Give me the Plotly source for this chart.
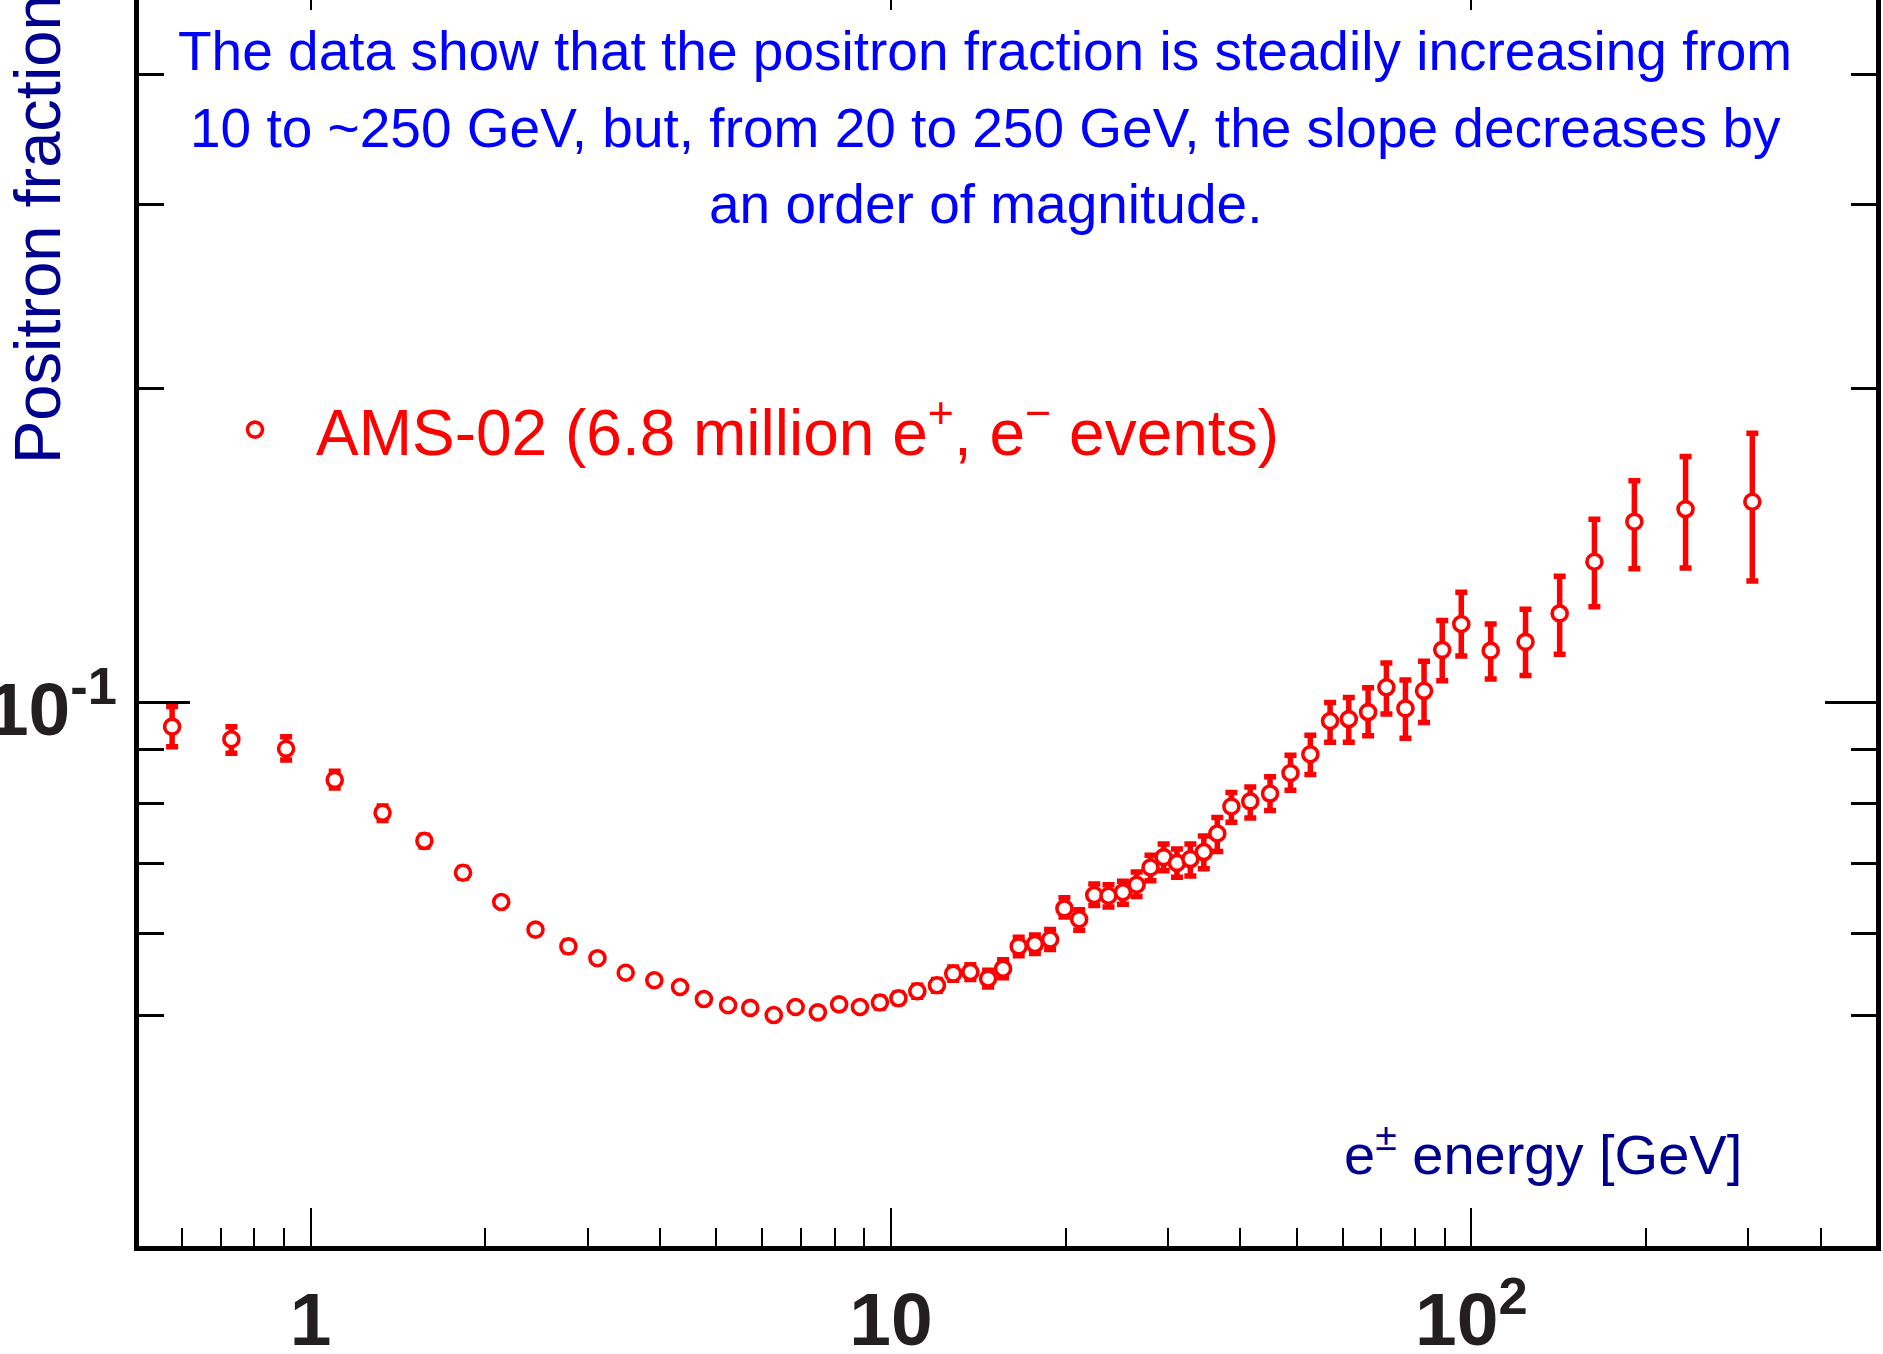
import plotly.graph_objects as go

# AMS-02 positron fraction versus e+/e- energy
energy = [0.577, 0.730, 0.907, 1.10, 1.33, 1.57, 1.83, 2.13, 2.44, 2.78,
          3.12, 3.49, 3.91, 4.33, 4.76, 5.24, 5.72, 6.28, 6.85, 7.48,
          8.14, 8.84, 9.57, 10.3, 11.1, 12.0, 12.8, 13.7, 14.7, 15.6,
          16.6, 17.7, 18.8, 19.9, 21.1, 22.4, 23.7, 25.1, 26.5, 28.0,
          29.5, 31.1, 32.8, 34.6, 36.5, 38.6, 41.6, 45.0, 48.8, 52.8,
          57.1, 61.5, 66.4, 71.4, 77.0, 82.9, 89.1, 96.1, 108, 124,
          142, 163, 191, 234, 305]

fraction = [0.0947, 0.0921, 0.0902, 0.0842, 0.0783, 0.0736, 0.0686, 0.0643, 0.0605, 0.0583,
            0.0568, 0.0550, 0.0541, 0.0533, 0.0519, 0.0512, 0.0509, 0.0501, 0.0510, 0.0504,
            0.0513, 0.0510, 0.0515, 0.0520, 0.0528, 0.0535, 0.0549, 0.0551, 0.0543, 0.0555,
            0.0583, 0.0586, 0.0592, 0.0634, 0.0619, 0.0653, 0.0652, 0.0657, 0.0668, 0.0694,
            0.0710, 0.0701, 0.0707, 0.0718, 0.0748, 0.0794, 0.0803, 0.0817, 0.0855, 0.0891,
            0.0959, 0.0963, 0.0978, 0.1033, 0.0986, 0.1025, 0.1122, 0.1188, 0.1120, 0.1142,
            0.1216, 0.1363, 0.1489, 0.1531, 0.1556]

err_up = [0.0043, 0.0026, 0.0024, 0.0016, 0.0012, 0.0009, 0.0008, 0.0005, 0.0004, 0.0007,
          0.0004, 0.0004, 0.0004, 0.0004, 0.0004, 0.0004, 0.0004, 0.0004, 0.0004, 0.0004,
          0.0004, 0.0004, 0.0006, 0.0006, 0.0007, 0.0007, 0.0008, 0.0009, 0.0010, 0.0011,
          0.0012, 0.0012, 0.0013, 0.0015, 0.0013, 0.0016, 0.0016, 0.0016, 0.0019, 0.0019,
          0.0021, 0.0022, 0.0024, 0.0026, 0.0027, 0.0025, 0.0026, 0.0031, 0.0034, 0.0038,
          0.0040, 0.0047, 0.0054, 0.0057, 0.0064, 0.0069, 0.0075, 0.0086, 0.0068, 0.0085,
          0.0104, 0.0134, 0.0141, 0.0188, 0.0254]

err_down = [0.0041, 0.0028, 0.0022, 0.0015, 0.0013, 0.0010, 0.0008, 0.0005, 0.0004, 0.0007,
            0.0004, 0.0004, 0.0004, 0.0004, 0.0004, 0.0004, 0.0004, 0.0004, 0.0004, 0.0004,
            0.0004, 0.0004, 0.0006, 0.0006, 0.0007, 0.0007, 0.0008, 0.0009, 0.0010, 0.0011,
            0.0012, 0.0012, 0.0013, 0.0012, 0.0015, 0.0015, 0.0016, 0.0017, 0.0017, 0.0020,
            0.0021, 0.0022, 0.0026, 0.0026, 0.0029, 0.0027, 0.0029, 0.0030, 0.0032, 0.0039,
            0.0044, 0.0048, 0.0050, 0.0059, 0.0063, 0.0069, 0.0074, 0.0081, 0.0068, 0.0082,
            0.0105, 0.0129, 0.0147, 0.0187, 0.0250]

x_tick_vals = [1, 10, 100]
x_tick_text = ["1", "10", "10<sup>2</sup>"]
x_minor_vals = [0.6, 0.7, 0.8, 0.9, 2, 3, 4, 5, 6, 7, 8, 9,
                20, 30, 40, 50, 60, 70, 80, 90, 200, 300, 400]
y_tick_vals = [0.1]
y_tick_text = ["10<sup>-1</sup>"]
y_minor_vals = [0.05, 0.06, 0.07, 0.08, 0.09, 0.2, 0.3, 0.4]

series_name = "AMS-02 (6.8 million e<sup>+</sup>, e<sup>\u2212</sup> events)"
summary_lines = [
    "The data show that the positron fraction is steadily increasing from",
    "10 to ~250 GeV, but, from 20 to 250 GeV, the slope decreases by",
    "an order of magnitude.",
]
x_title = "e<sup>\u00b1</sup> energy [GeV]"
y_title = "Positron fraction"

# page geometry (pixels)
W, H = 1883, 1354
ML, MR, MT, MB = 139, 7, 0, 108
PW, PH = W - ML - MR, H - MT - MB

X_RANGE = [-0.2959, 2.6974]   # log10 of energy
Y_RANGE = [-1.5216, -0.3269]  # log10 of fraction

SANS = "Liberation Sans, Arial, Helvetica, sans-serif"
RED = "#ff0000"
BLUE = "#0000ff"
NAVY = "#000090"
INK = "#231f20"
NOTE_SIZE = 55


def paper_x(px):
    return (px - ML) / PW


def paper_y(py):
    return 1 - (py - MT) / PH


fig = go.Figure()
fig.add_trace(go.Scatter(
    x=energy, y=fraction, mode="markers", name=series_name,
    marker=dict(symbol="circle", size=15, color="white",
                line=dict(color=RED, width=3.6)),
    error_y=dict(type="data", symmetric=False, array=err_up, arrayminus=err_down,
                 color=RED, thickness=5.5, width=6),
))
# empty trace so the top tick axis gets drawn
fig.add_trace(go.Scatter(x=[], y=[], xaxis="x2", yaxis="y", mode="markers",
                         showlegend=False, hoverinfo="skip"))

annotations = []
for text, baseline in zip(summary_lines, [70, 147, 223]):
    annotations.append(dict(
        text=text, xref="paper", yref="paper",
        x=paper_x(985), y=paper_y(baseline - 0.35 * NOTE_SIZE),
        xanchor="center", yanchor="middle", showarrow=False,
        font=dict(family=SANS, size=NOTE_SIZE, color=BLUE),
    ))
annotations.append(dict(
    text=x_title, xref="paper", yref="paper",
    x=paper_x(1744), y=paper_y(1170 - 0.35 * 56),
    xanchor="right", yanchor="middle", showarrow=False,
    font=dict(family=SANS, size=56, color=NAVY),
))
annotations.append(dict(
    text=y_title, xref="paper", yref="paper", textangle=-90,
    x=paper_x(37), y=paper_y(466),
    xanchor="center", yanchor="bottom", showarrow=False,
    font=dict(family=SANS, size=65, color=NAVY),
))

fig.update_layout(
    width=W, height=H,
    margin=dict(l=ML, r=MR, t=MT, b=MB, pad=0, autoexpand=False),
    paper_bgcolor="white", plot_bgcolor="white",
    showlegend=True,
    legend=dict(x=paper_x(194), y=paper_y(430), xanchor="left", yanchor="middle",
                bgcolor="rgba(0,0,0,0)", borderwidth=0, itemwidth=112,
                font=dict(family=SANS, size=64, color=RED)),
    annotations=annotations,
    xaxis=dict(
        type="log", range=X_RANGE, showgrid=False, zeroline=False, automargin=False,
        showline=True, linecolor="black", linewidth=5, mirror=False,
        tickmode="array", tickvals=x_tick_vals, ticktext=x_tick_text,
        ticks="inside", ticklen=38, tickwidth=2, tickcolor="black",
        ticklabelstandoff=4,
        tickfont=dict(family=SANS, size=75, color=INK, weight="bold"),
        minor=dict(tickmode="array", tickvals=x_minor_vals, ticks="inside",
                   ticklen=18, tickwidth=2, tickcolor="black", showgrid=False),
    ),
    xaxis2=dict(
        type="log", range=X_RANGE, overlaying="x", side="top", anchor="y",
        showgrid=False, zeroline=False, showline=False, showticklabels=False,
        automargin=False,
        tickmode="array", tickvals=x_tick_vals,
        ticks="inside", ticklen=10, tickwidth=2, tickcolor="black",
    ),
    yaxis=dict(
        type="log", range=Y_RANGE, showgrid=False, zeroline=False, automargin=False,
        showline=True, linecolor="black", linewidth=5, mirror="ticks",
        tickmode="array", tickvals=y_tick_vals, ticktext=y_tick_text,
        ticks="inside", ticklen=51, tickwidth=3, tickcolor="black",
        ticklabelstandoff=2, ticklabelshift=7,
        tickfont=dict(family=SANS, size=75, color=INK, weight="bold"),
        minor=dict(tickmode="array", tickvals=y_minor_vals, ticks="inside",
                   ticklen=25, tickwidth=3, tickcolor="black", showgrid=False),
    ),
)

fig.write_html("out.html")
